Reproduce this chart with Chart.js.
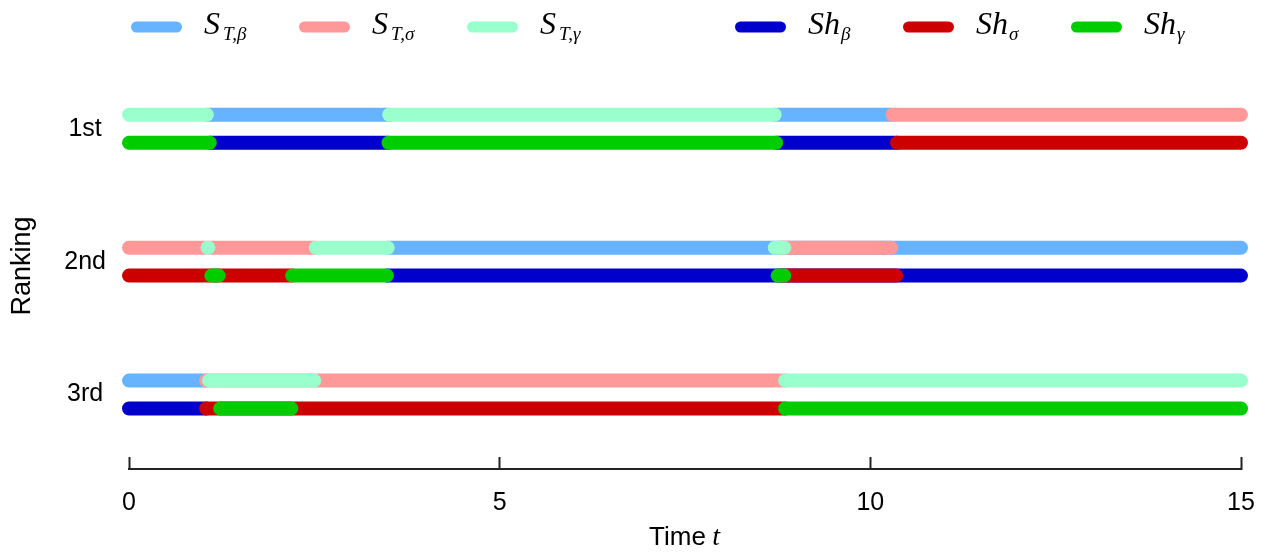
<!DOCTYPE html>
<html>
<head>
<meta charset="utf-8">
<script src="https://cdn.jsdelivr.net/npm/chart.js@4.4.1/dist/chart.umd.min.js"></script>
<style>
  html, body { margin: 0; padding: 0; background: #fff; }
  #wrap { width: 1267px; height: 552px; position: relative; }
</style>
</head>
<body>
<div id="wrap"><canvas id="chart"></canvas></div>
<script>
// --- DATA ---
const rankLabels = ['1st', '2nd', '3rd'];
const timeTicks = [0, 5, 10, 15];

// segments: [rank, t start, t end]
const stBeta  = [[1, 1.05, 3.51], [1, 8.71, 10.30], [2, 3.49, 15], [3, 0, 1.04]];
const stSigma = [[1, 10.30, 15], [2, 0, 2.52], [2, 8.78, 10.28], [3, 1.04, 8.85]];
const stGamma = [[1, 0, 1.05], [1, 3.51, 8.71], [2, 1.06, 1.07], [2, 2.52, 3.49], [2, 8.71, 8.84], [3, 1.08, 2.50], [3, 8.85, 15]];
const shBeta  = [[1, 1.09, 3.50], [1, 8.73, 10.36], [2, 3.48, 15], [3, 0, 1.04]];
const shSigma = [[1, 10.36, 15], [2, 0, 2.20], [2, 8.80, 10.35], [3, 1.04, 8.85]];
const shGamma = [[1, 0, 1.09], [1, 3.50, 8.73], [2, 1.11, 1.21], [2, 2.20, 3.48], [2, 8.75, 8.84], [3, 1.23, 2.19], [3, 8.85, 15]];

// --- STYLE ---
const LANE = 0.105; // S_T above, Sh below the rank line
const series = [
    { label: 'S_T,β', segs: stBeta,  lane: -1, color: '#66b3ff', order: 3 },
    { label: 'S_T,σ', segs: stSigma, lane: -1, color: '#ff9999', order: 2 },
    { label: 'S_T,γ', segs: stGamma, lane: -1, color: '#99ffcc', order: 1 },
    { label: 'Sh_β',  segs: shBeta,  lane: 1,  color: '#0000cc', order: 3 },
    { label: 'Sh_σ',  segs: shSigma, lane: 1,  color: '#cc0000', order: 2 },
    { label: 'Sh_γ',  segs: shGamma, lane: 1,  color: '#00cc00', order: 1 }
];

const toPoints = (segs, lane) => segs.flatMap(([r, s, e]) => [
    { x: s, y: r + lane * LANE },
    { x: e, y: r + lane * LANE },
    { x: e, y: null }
]);

const SANS = '"Liberation Sans", Arial, sans-serif';
const SERIF = '"Liberation Serif", "Times New Roman", serif';

// legend, axis titles (math italics need mixed fonts)
const mathLabels = {
    id: 'mathLabels',
    afterDraw(chart) {
        const ctx = chart.ctx;
        ctx.save();
        chart.data.datasets.forEach((ds, i) => {
            const x0 = 131 + i * 168 + (i > 2 ? 100 : 0);
            const y0 = 27;
            ctx.strokeStyle = ds.borderColor;
            ctx.lineWidth = 11;
            ctx.lineCap = 'round';
            ctx.beginPath();
            ctx.moveTo(x0 + 5.5, y0);
            ctx.lineTo(x0 + 45.5, y0);
            ctx.stroke();

            const [main, sub] = ds.label.split('_');
            ctx.fillStyle = '#000';
            ctx.textAlign = 'left';
            ctx.textBaseline = 'alphabetic';
            ctx.font = 'italic 32px ' + SERIF;
            ctx.fillText(main, x0 + 73, 34);
            const w = ctx.measureText(main).width;
            ctx.font = 'italic 19px ' + SERIF;
            ctx.fillText(sub, x0 + 73 + w + (main.length > 1 ? 1 : 3), 40);
        });

        // x axis title: "Time t"
        const area = chart.chartArea;
        const cx = (area.left + area.right) / 2;
        ctx.font = '26px ' + SANS;
        const w1 = ctx.measureText('Time ').width;
        ctx.font = 'italic 28px ' + SERIF;
        const w2 = ctx.measureText('t').width;
        const left = cx - (w1 + w2) / 2;
        ctx.fillStyle = '#000';
        ctx.textAlign = 'left';
        ctx.textBaseline = 'alphabetic';
        ctx.font = '26px ' + SANS;
        ctx.fillText('Time ', left, 545);
        ctx.font = 'italic 28px ' + SERIF;
        ctx.fillText('t', left + w1 - 1, 545);

        // y axis title
        ctx.save();
        ctx.translate(23, 266);
        ctx.rotate(-Math.PI / 2);
        ctx.textAlign = 'center';
        ctx.textBaseline = 'middle';
        ctx.font = '27px ' + SANS;
        ctx.fillText('Ranking', 0, 0);
        ctx.restore();
        ctx.restore();
    }
};

new Chart(document.getElementById('chart'), {
    type: 'line',
    data: {
        datasets: series.map(s => ({
            label: s.label,
            data: toPoints(s.segs, s.lane),
            borderColor: s.color,
            backgroundColor: s.color,
            borderWidth: 14,
            borderCapStyle: 'round',
            borderJoinStyle: 'round',
            pointRadius: 0,
            pointHoverRadius: 0,
            spanGaps: false,
            tension: 0,
            fill: false,
            clip: false,
            order: s.order
        }))
    },
    options: {
        responsive: true,
        maintainAspectRatio: false,
        animation: false,
        events: [],
        layout: { padding: { left: 0, right: 26, top: 49, bottom: 0 } },
        plugins: { legend: { display: false }, tooltip: { enabled: false } },
        scales: {
            x: {
                type: 'linear',
                min: 0,
                max: 15,
                afterBuildTicks: (scale) => { scale.ticks = timeTicks.map(v => ({ value: v })); },
                afterFit: (scale) => { scale.height = 83; scale.paddingLeft = 0; scale.paddingRight = 0; },
                ticks: { font: { size: 25, family: SANS }, color: '#000', padding: 31, maxRotation: 0 },
                grid: { display: true, drawOnChartArea: false, drawTicks: true, tickLength: -12, tickWidth: 2, tickColor: '#222' },
                border: { display: true, width: 2, color: '#222' }
            },
            y: {
                type: 'linear',
                reverse: true,
                min: 0.4,
                max: 3.56,
                afterBuildTicks: (scale) => { scale.ticks = rankLabels.map((_, i) => ({ value: i + 1 })); },
                afterFit: (scale) => { scale.width = 129; scale.paddingTop = 0; scale.paddingBottom = 0; },
                ticks: {
                    font: { size: 25, family: SANS },
                    color: '#000',
                    padding: 15,
                    crossAlign: 'center',
                    callback: (v) => rankLabels[v - 1] || ''
                },
                grid: { display: false },
                border: { display: false },
                title: { display: false }
            }
        }
    },
    plugins: [mathLabels]
});
</script>
</body>
</html>
